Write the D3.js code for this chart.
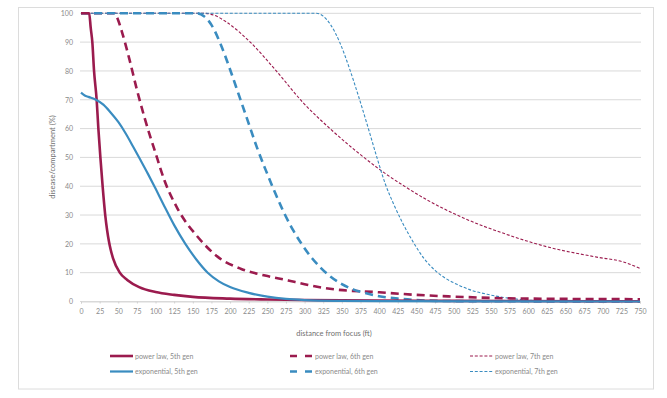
<!DOCTYPE html>
<html><head><meta charset="utf-8">
<script src="https://cdn.jsdelivr.net/npm/d3@7"></script>
<style>
html,body{margin:0;padding:0;background:#fff;}
svg text{font-family:Lato,"Open Sans",sans-serif;}
</style></head>
<body><svg id="c" width="667" height="398"></svg>
<script>
const xTicks = d3.range(0, 751, 25);
const yTicks = [0,10,20,30,40,50,60,70,80,90,100];

const powerLaw5 = [[0,100],[11,100],[13,95],[15.2,90],[17.5,80],[21,70],[23.3,60],[26,50],[29,40],[32.5,30],[35,24.8],[37.5,20.8],[40,17.8],[43,15],[52,10],[62,7.5],[78,5],[100,3.3],[125,2.3],[150,1.6],[200,1],[250,0.7],[300,0.5],[400,0.3],[500,0.2],[750,0.1]];
const powerLaw6 = [[0,100],[45,100],[50,97.5],[55,93.5],[65,84],[75,73.5],[85,64],[100,51.5],[112,42],[130,32],[157,22.3],[184,15.4],[215,11.3],[247,9],[278,7.3],[300,6],[334,4.4],[400,3.2],[450,2.3],[500,1.7],[575,1.1],[650,0.9],[750,0.8]];
const powerLaw7 = [[0,100],[165,100],[180,99.2],[195,97],[227,90],[262,80],[298,69],[334,60],[370,52],[405,45],[437,39.5],[464,35.3],[513,29],[571,23.3],[625,19],[692,15.4],[728,13.7],[750,11.5]];
const expo5 = [[0,72.5],[5,71.5],[10,71],[20,70],[30,68.3],[40,65.5],[50,62.3],[60,58.3],[70,53.7],[80,49],[90,44.2],[100,39.2],[112,33],[125,26.5],[140,20],[155,14.5],[170,10],[185,7],[200,5],[225,3],[250,1.7],[275,0.9],[300,0.5],[350,0.2],[400,0.1],[750,0]];
const expo6 = [[0,100],[155,100],[165,99],[175,96],[187,89.5],[200,80.5],[212,71.5],[224,62.5],[236,53.5],[248,45.5],[260,38],[272,31],[284,25],[296,20],[310,15],[322,11.6],[335,8.6],[350,6],[365,4.2],[380,3],[400,1.8],[425,1],[450,0.5],[500,0.15],[750,0]];
const expo7 = [[0,100],[316,100],[325,99],[335,96],[347,90],[360,81],[372,71.5],[385,60.5],[397,50],[408,41],[420,33.5],[432,27],[446,20.5],[460,15],[475,10.8],[490,7.9],[505,5.9],[525,3.8],[545,2.5],[565,1.5],[590,0.7],[625,0.2],[750,0]];

const seriesNames = ["power law, 5th gen","power law, 6th gen","power law, 7th gen","exponential, 5th gen","exponential, 6th gen","exponential, 7th gen"];

const RED = "#9b1b4e", BLUE = "#3a8cc0";
const styles = [
  {c:RED, w:2.6, d:null, ld:null},
  {c:RED, w:2.6, d:"8,5", ld:"7,8"},
  {c:RED, w:1.1, d:"3,1.8", ld:"3,1.8"},
  {c:BLUE, w:2.2, d:null, ld:null},
  {c:BLUE, w:2.6, d:"8,5", ld:"7,8"},
  {c:BLUE, w:1.1, d:"3,1.8", ld:"3,1.8"}
];
const data = [powerLaw5, powerLaw6, powerLaw7, expo5, expo6, expo7];

const svg = d3.select("#c");
svg.append("rect").attr("x",18.5).attr("y",7.5).attr("width",635).attr("height",381.5)
  .attr("fill","#fff").attr("stroke","#dcdcdc").attr("stroke-width",1);

const x = d3.scaleLinear().domain([0,750]).range([81,640]);
const y = d3.scaleLinear().domain([0,100]).range([301.5,13.3]);

// grid
svg.append("g").selectAll("line").data(yTicks).join("line")
  .attr("x1",80).attr("x2",641).attr("y1",d=>y(d)).attr("y2",d=>y(d))
  .attr("stroke","#d9d9d9").attr("stroke-width",1);

// x axis
const xa = svg.append("g").attr("transform","translate(0,"+y(0)+")")
  .call(d3.axisBottom(x).tickValues(xTicks).tickSize(2).tickPadding(6).tickFormat(d3.format("d")));
xa.select(".domain").attr("stroke","#d9d9d9");
xa.selectAll(".tick line").attr("stroke","#d0d0d0");
xa.selectAll("text").attr("fill","#8a8a8a").attr("font-size","7px");

// y axis
const ya = svg.append("g").attr("transform","translate(76,0)")
  .call(d3.axisLeft(y).tickValues(yTicks).tickSize(0).tickPadding(3));
ya.select(".domain").remove();
ya.selectAll("text").attr("fill","#8a8a8a").attr("font-size","7px");

// titles
svg.append("text").attr("x",334).attr("y",336).attr("text-anchor","middle")
  .attr("font-size","7.5px").attr("fill","#707070").text("distance from focus (ft)");
svg.append("text").attr("transform","translate(55,157) rotate(-90)").attr("text-anchor","middle")
  .attr("font-size","7.5px").attr("fill","#707070").text("disease/compartment (%)");

// lines
const line = d3.line().x(d=>x(d[0])).y(d=>y(d[1])).curve(d3.curveMonotoneX);
const order = [2,5,1,4,0,3];
order.forEach(i=>{
  svg.append("path").datum(data[i]).attr("d",line).attr("fill","none")
    .attr("stroke",styles[i].c).attr("stroke-width",styles[i].w)
    .attr("stroke-dasharray",styles[i].d);
});

// legend
const colX = [110,290,470];
const rowY = [356,371.5];
seriesNames.forEach((name,i)=>{
  const cx = colX[i%3], cy = rowY[Math.floor(i/3)];
  svg.append("line").attr("x1",cx).attr("x2",cx+23).attr("y1",cy).attr("y2",cy)
    .attr("stroke",styles[i].c).attr("stroke-width",styles[i].w)
    .attr("stroke-dasharray",styles[i].ld);
  svg.append("text").attr("x",cx+25).attr("y",cy+2.5).attr("font-size","7px")
    .attr("fill","#8a8a8a").text(name);
});
</script></body></html>
